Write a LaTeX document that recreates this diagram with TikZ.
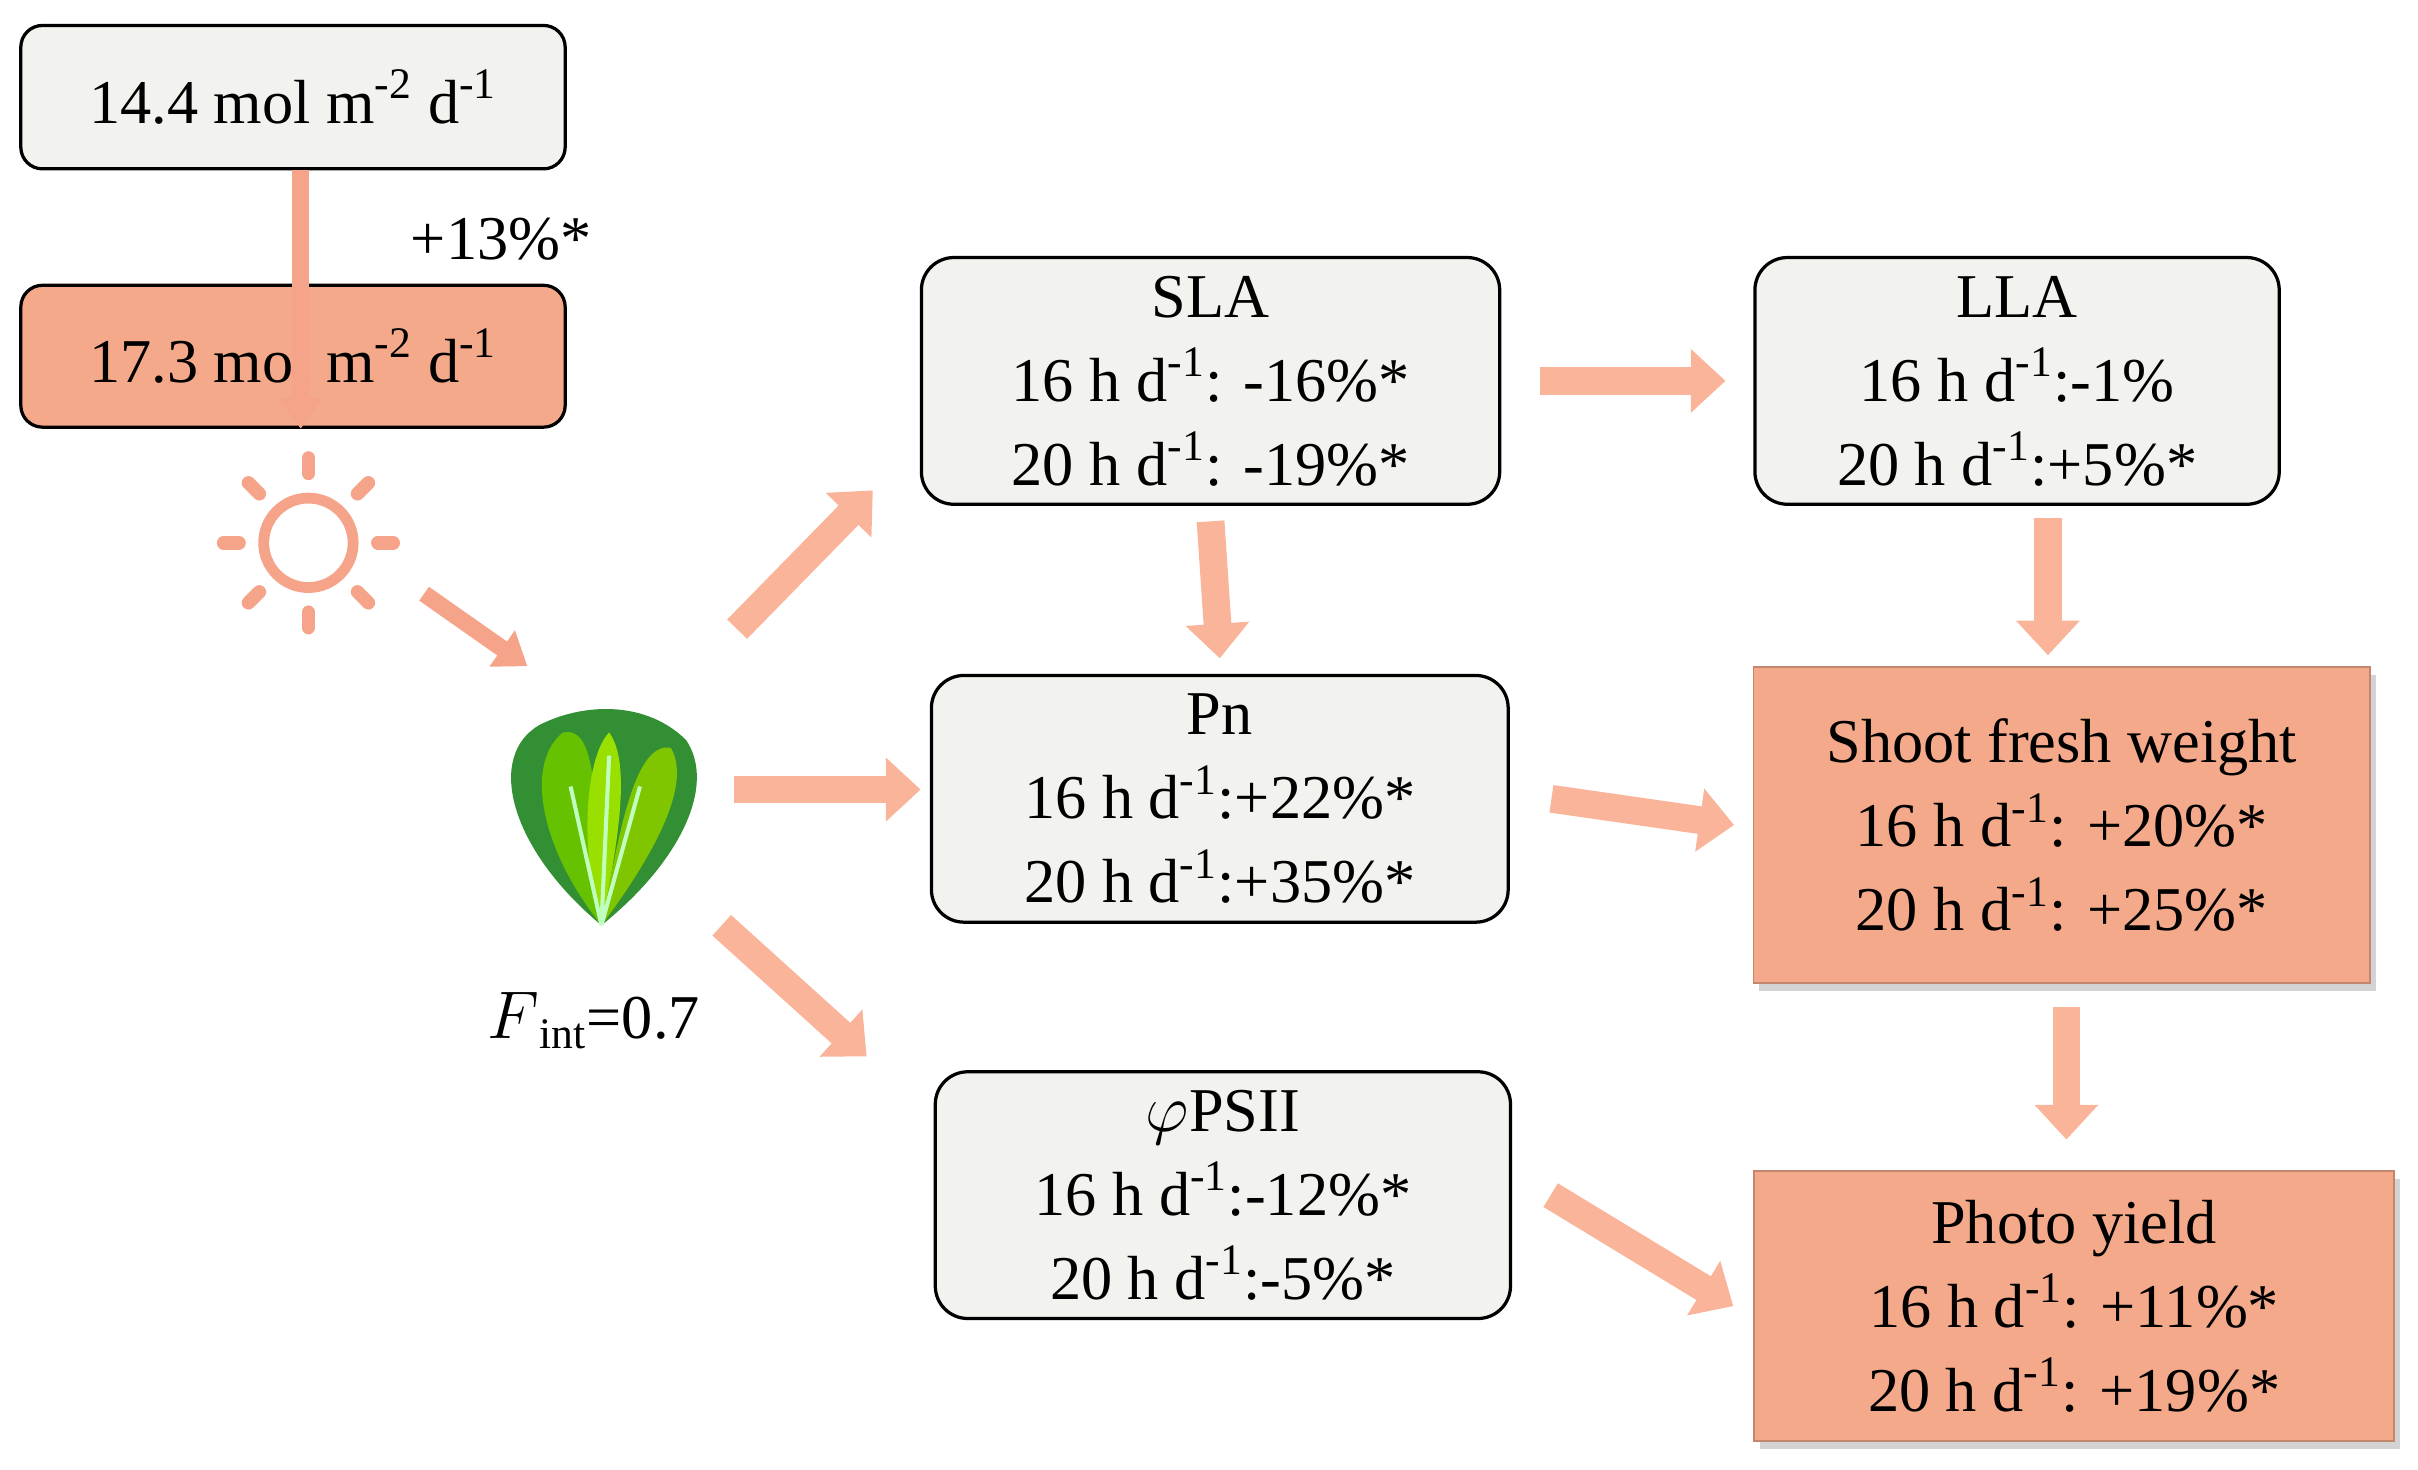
\documentclass[tikz,border=0pt]{standalone}
\usepackage{fontspec}
\setmainfont{Liberation Serif}
\usetikzlibrary{arrows.meta,shadows}
\definecolor{boxg}{HTML}{F2F2EE}
\definecolor{sal}{HTML}{F4A98A}
\definecolor{arr}{HTML}{F9B49A}
\definecolor{sun}{HTML}{F5A48A}
\begin{document}
\begin{tikzpicture}[x=0.02cm,y=-0.02cm,
  txt/.style={font=\fontsize{23}{31}\selectfont,align=center},
  gbox/.style={txt,draw,line width=1.2pt,rounded corners=12pt,fill=boxg,inner sep=0pt},
  sbox/.style={txt,draw=sal!80!black,line width=0.6pt,fill=sal,inner sep=0pt,drop shadow={shadow xshift=2pt,shadow yshift=-3pt,opacity=0.35}},
  ba/.style={draw=arr,line width=0.36cm,-{Triangle[width=0.8cm,length=0.45cm]},shorten >=0pt}]
\useasboundingbox (0,0) rectangle (1568,953);
\node[gbox,minimum width=353*0.02cm,minimum height=93*0.02cm,rounded corners=8pt] (a) at (190,63) {14.4 mol m\textsuperscript{-2} d\textsuperscript{-1}};
\node[gbox,fill=sal,minimum width=353*0.02cm,minimum height=92*0.02cm,rounded corners=8pt] (b) at (190,231) {17.3 mol m\textsuperscript{-2} d\textsuperscript{-1}};
\node[txt] (p) at (325,155) {+13\%*};
\node[gbox,minimum width=375*0.02cm,minimum height=160*0.02cm] (sla) at (785,247) {SLA\\16 h d\textsuperscript{-1}: -16\%*\\20 h d\textsuperscript{-1}: -19\%*};
\node[gbox,minimum width=340*0.02cm,minimum height=160*0.02cm] (lla) at (1308,247) {LLA\\16 h d\textsuperscript{-1}:-1\%\\20 h d\textsuperscript{-1}:+5\%*};
\node[gbox,minimum width=374*0.02cm,minimum height=160*0.02cm] (pn) at (791,518) {Pn\\16 h d\textsuperscript{-1}:+22\%*\\20 h d\textsuperscript{-1}:+35\%*};
\node[gbox,minimum width=373*0.02cm,minimum height=160*0.02cm] (ps) at (793,775) {$\varphi$PSII\\16 h d\textsuperscript{-1}:-12\%*\\20 h d\textsuperscript{-1}:-5\%*};
\node[sbox,minimum width=400*0.02cm,minimum height=205*0.02cm] (sfw) at (1337,535) {Shoot fresh weight\\16 h d\textsuperscript{-1}: +20\%*\\20 h d\textsuperscript{-1}: +25\%*};
\node[sbox,minimum width=415*0.02cm,minimum height=175*0.02cm] (py) at (1345,847) {Photo yield\\16 h d\textsuperscript{-1}: +11\%*\\20 h d\textsuperscript{-1}: +19\%*};
\node[txt] (f) at (385,662) {$F$\textsubscript{int}=0.7};
% sun
\node[draw=sun,line width=4pt,circle,minimum size=58*0.02cm] (s) at (200,352) {};
\foreach \a in {0,45,...,315}
  \draw[sun,line width=5pt,line cap=round] (s.center) ++(\a:45) -- ++(\a:10);
% lettuce
\begin{scope}[shift={(390,530)}]
\coordinate (l) at (0,0);
\fill[green!45!black!80] (0,70) .. controls (-60,20) and (-75,-40) .. (-40,-60) .. controls (-10,-75) and (30,-75) .. (55,-50) .. controls (75,-20) and (50,30) .. (0,70);
\fill[green!60!black!60!yellow] (0,70) .. controls (-40,20) and (-50,-35) .. (-25,-55) .. controls (0,-60) and (-5,0) .. (0,70);
\fill[green!55!black!50!yellow] (0,70) .. controls (10,20) and (20,-50) .. (45,-45) .. controls (60,-20) and (30,30) .. (0,70);
\fill[green!70!black!40!yellow] (0,70) .. controls (-15,20) and (-10,-40) .. (5,-55) .. controls (20,-35) and (10,20) .. (0,70);
\draw[green!25!white,line width=1.5pt] (0,70) -- (-20,-20) (0,70) -- (5,-40) (0,70) -- (25,-20);
\end{scope}
% arrows
\coordinate (s1) at (275,385); \coordinate (s2) at (342,432);
\coordinate (l1) at (478,408); \coordinate (l2) at (566,318);
\coordinate (l3) at (476,512); \coordinate (l4) at (597,512);
\coordinate (l5) at (468,600); \coordinate (l6) at (562,685);
\draw[sun,line width=0.22cm,-{Triangle[width=0.55cm,length=0.4cm]}] (b.south) ++(5,0) coordinate (b0) (a.south) ++(5,0) -- (b0);
\draw[sun,line width=0.22cm,-{Triangle[width=0.55cm,length=0.4cm]}] (s1) -- (s2);
\draw[ba] (l1) -- (l2);
\draw[ba] (l3) -- (l4);
\draw[ba] (l5) -- (l6);
\draw[ba] ([xshift=25*0.02cm]sla.east) -- ([xshift=-18*0.02cm]lla.west);
\draw[ba] ([yshift=-10*0.02cm]sla.south) -- ([yshift=10*0.02cm]pn.north);
\draw[ba] ([yshift=-8*0.02cm,xshift=20*0.02cm]lla.south) -- ([yshift=7*0.02cm,xshift=-9*0.02cm]sfw.north);
\draw[ba] ([xshift=27*0.02cm]pn.east) -- ([xshift=-12*0.02cm]sfw.west);
\draw[ba] ([yshift=-15*0.02cm,xshift=3*0.02cm]sfw.south) -- ([yshift=20*0.02cm,xshift=-5*0.02cm]py.north);
\draw[ba] ([xshift=25*0.02cm]ps.east) -- ([xshift=-13*0.02cm]py.west);
\end{tikzpicture}
\end{document}
